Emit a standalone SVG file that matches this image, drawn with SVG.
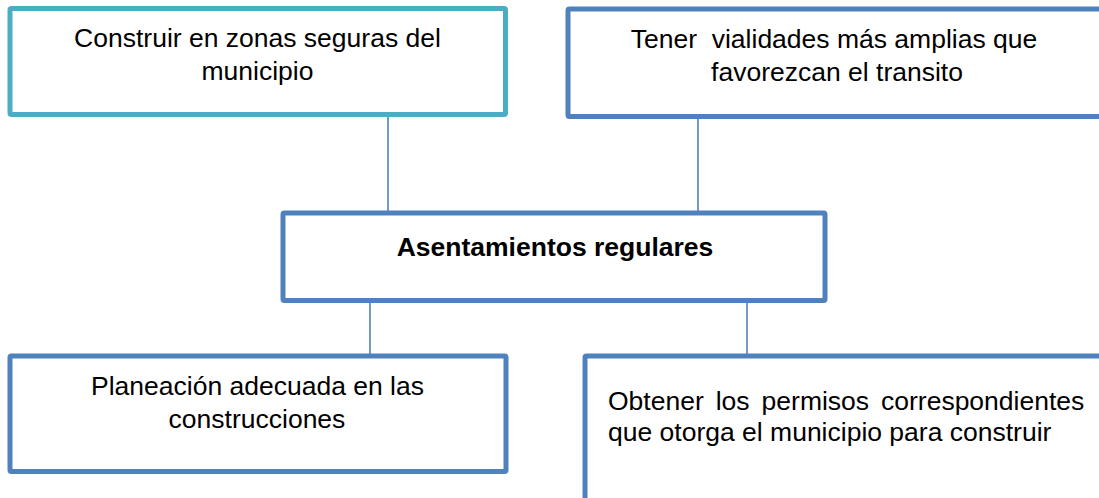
<svg xmlns="http://www.w3.org/2000/svg" width="1099" height="498" viewBox="0 0 1099 498">
<style>
.box{fill:#fff;stroke:#4F81BD;stroke-width:5;stroke-linejoin:round}
.teal{stroke:#4BACC6}
.t{font-family:"Liberation Sans",Arial,sans-serif;font-size:26.5px;fill:#000}
.c{text-anchor:middle}
.b{font-weight:bold}
.conn{stroke:#4F81BD;stroke-width:1.6;fill:none}
</style>
<g id="connectors">
<line class="conn" x1="388" y1="103" x2="388" y2="211"/>
<line class="conn" x1="698" y1="103" x2="698" y2="211"/>
<line class="conn" x1="370" y1="302" x2="370" y2="354"/>
<line class="conn" x1="747" y1="302" x2="747" y2="354"/>
</g>
<g id="n1">
<rect class="box teal" x="10" y="8.5" width="495.5" height="106" rx="1.5"/>
<text class="t c" x="257.5" y="47">Construir en zonas seguras del</text>
<text class="t c" x="257.5" y="79.5">municipio</text>
</g>
<g id="n2">
<rect class="box" x="568" y="9" width="560" height="107.5" rx="1.5"/>
<text class="t c" x="834" y="48" xml:space="preserve">Tener  vialidades más amplias que</text>
<text class="t c" x="837" y="81">favorezcan el transito</text>
</g>
<g id="n0">
<rect class="box" x="283" y="213" width="542" height="87.5" rx="1.5"/>
<text class="t c b" x="555" y="256">Asentamientos regulares</text>
</g>
<g id="n3">
<rect class="box" x="10" y="356" width="496" height="115.5" rx="1.5"/>
<text class="t c" x="257.5" y="395">Planeación adecuada en las</text>
<text class="t c" x="257" y="427.5">construcciones</text>
</g>
<g id="n4">
<rect class="box" x="585" y="356" width="560" height="170" rx="1.5"/>
<text class="t" y="410"><tspan x="608">Obtener</tspan><tspan x="715.7">los</tspan><tspan x="761.6">permisos</tspan><tspan x="881">correspondientes</tspan></text>
<text class="t" x="608" y="441">que otorga el municipio para construir</text>
</g>
</svg>
